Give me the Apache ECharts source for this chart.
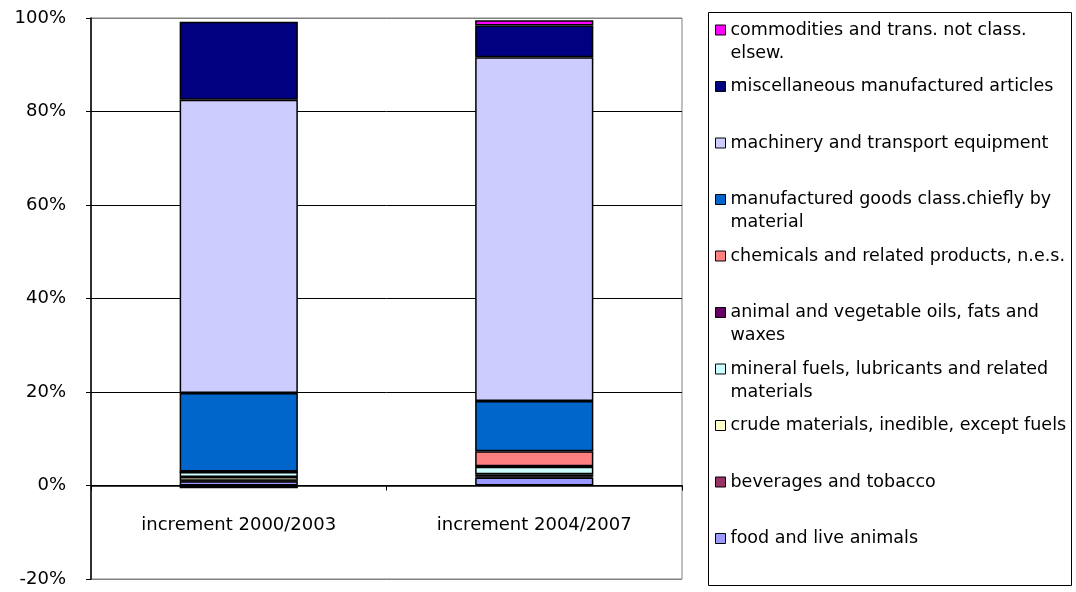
<!DOCTYPE html>
<html>
<head>
<meta charset="utf-8">
<script src="https://cdn.jsdelivr.net/npm/echarts@6/dist/echarts.min.js"></script>
<style>html,body{margin:0;padding:0;background:#fff;}#c{width:1076px;height:592px;}</style>
</head>
<body>
<div id="c"></div>
<script>
// ---- data (percent of increment) ----
const categories = ['increment 2000/2003', 'increment 2004/2007'];
const food = [0.9, 1.7];
const beverages = [0.1, 0.2];
const crude = [0.8, 0.5];
const mineral = [1.1, 1.6];
const oils = [0.0, 0.1];
const chemicals = [0.1, 3.2];
const manufactured = [16.8, 10.8];
const machinery = [62.7, 73.5];
const misc = [16.7, 6.8];
const commodities = [-0.6, 1.1];
const yMin = -20, yMax = 100, yStep = 20;

// series in stacking order (bottom -> top)
const seriesDefs = [
  { name: 'food and live animals', data: food, color: '#9999FF', label: 'food and live animals' },
  { name: 'beverages and tobacco', data: beverages, color: '#993366', label: 'beverages and tobacco' },
  { name: 'crude materials, inedible, except fuels', data: crude, color: '#FFFFCC', label: 'crude materials, inedible, except fuels' },
  { name: 'mineral fuels, lubricants and related materials', data: mineral, color: '#CCFFFF', label: 'mineral fuels, lubricants and related\nmaterials' },
  { name: 'animal and vegetable oils, fats and waxes', data: oils, color: '#660066', label: 'animal and vegetable oils, fats and\nwaxes' },
  { name: 'chemicals and related products, n.e.s.', data: chemicals, color: '#FF8080', label: 'chemicals and related products, n.e.s.' },
  { name: 'manufactured goods class.chiefly by material', data: manufactured, color: '#0066CC', label: 'manufactured goods class.chiefly by\nmaterial' },
  { name: 'machinery and transport equipment', data: machinery, color: '#CCCCFF', label: 'machinery and transport equipment' },
  { name: 'miscellaneous manufactured articles', data: misc, color: '#000080', label: 'miscellaneous manufactured articles' },
  { name: 'commodities and trans. not class. elsew.', data: commodities, color: '#FF00FF', label: 'commodities and trans. not class.\nelsew.' }
];

const FONT = 'DejaVu Sans';
const labelMap = {};
seriesDefs.forEach(s => {
  // two-line labels get a blank leading line so the first text line sits level with the icon
  labelMap[s.name] = s.label.indexOf('\n') >= 0 ? '\u00a0\n' + s.label : s.label;
});

const gridTop = 18, gridBottom = 13, chartH = 592;
const gridH = chartH - gridTop - gridBottom;
const zeroOffset = gridH * (0 - yMin) / (yMax - yMin);

const legendOrder = seriesDefs.slice().reverse();
const legends = legendOrder.map((s, i) => {
  const center = 30 + i * 56.5;
  const twoLine = s.label.indexOf('\n') >= 0;
  return {
    left: 715,
    top: twoLine ? center - 34.5 : center - 11.5,
    orient: 'vertical',
    padding: 0,
    itemWidth: 10,
    itemHeight: 10,
    itemGap: 0,
    icon: 'rect',
    selectedMode: false,
    itemStyle: { borderColor: '#000', borderWidth: 1 },
    formatter: n => labelMap[n],
    textStyle: { fontFamily: FONT, fontSize: 17.5, color: '#000', lineHeight: 23 },
    data: [s.name]
  };
});

const chart = echarts.init(document.getElementById('c'), null, { renderer: 'canvas' });
chart.setOption({
  animation: false,
  backgroundColor: '#fff',
  textStyle: { fontFamily: FONT },
  grid: { left: 91, right: 394, top: gridTop, bottom: gridBottom, show: true, borderColor: '#808080', borderWidth: 1, backgroundColor: 'transparent', containLabel: false, outerBoundsMode: 'none' },
  legend: legends,
  graphic: [{
    type: 'rect', silent: true, z: -1,
    shape: { x: 708.5, y: 12.5, width: 363, height: 573 },
    style: { fill: '#fff', stroke: '#000', lineWidth: 1 }
  }],
  xAxis: {
    type: 'category',
    data: categories,
    position: 'bottom',
    offset: -zeroOffset,
    axisLine: { onZero: false, lineStyle: { color: '#000', width: 1.5 } },
    axisTick: { show: true, length: 5, lineStyle: { color: '#000' } },
    axisLabel: { fontFamily: FONT, fontSize: 18, color: '#000', margin: 31 },
    splitLine: { show: false }
  },
  yAxis: {
    type: 'value',
    min: yMin, max: yMax, interval: yStep,
    axisLine: { show: true, lineStyle: { color: '#000', width: 1.5 } },
    axisTick: { show: true, length: 5, lineStyle: { color: '#000' } },
    axisLabel: { fontFamily: FONT, fontSize: 18, color: '#000', margin: 25, formatter: '{value}%' },
    splitLine: { show: true, lineStyle: { color: ['#808080', '#000', '#000', '#000', '#000', '#000', '#808080'], width: 1 } }
  },
  series: seriesDefs.map(s => ({
    name: s.name,
    type: 'bar',
    stack: 'total',
    barWidth: '40%',
    data: s.data,
    itemStyle: { color: s.color, borderColor: '#000', borderWidth: 1.5 },
    emphasis: { disabled: true }
  }))
});
</script>
</body>
</html>
